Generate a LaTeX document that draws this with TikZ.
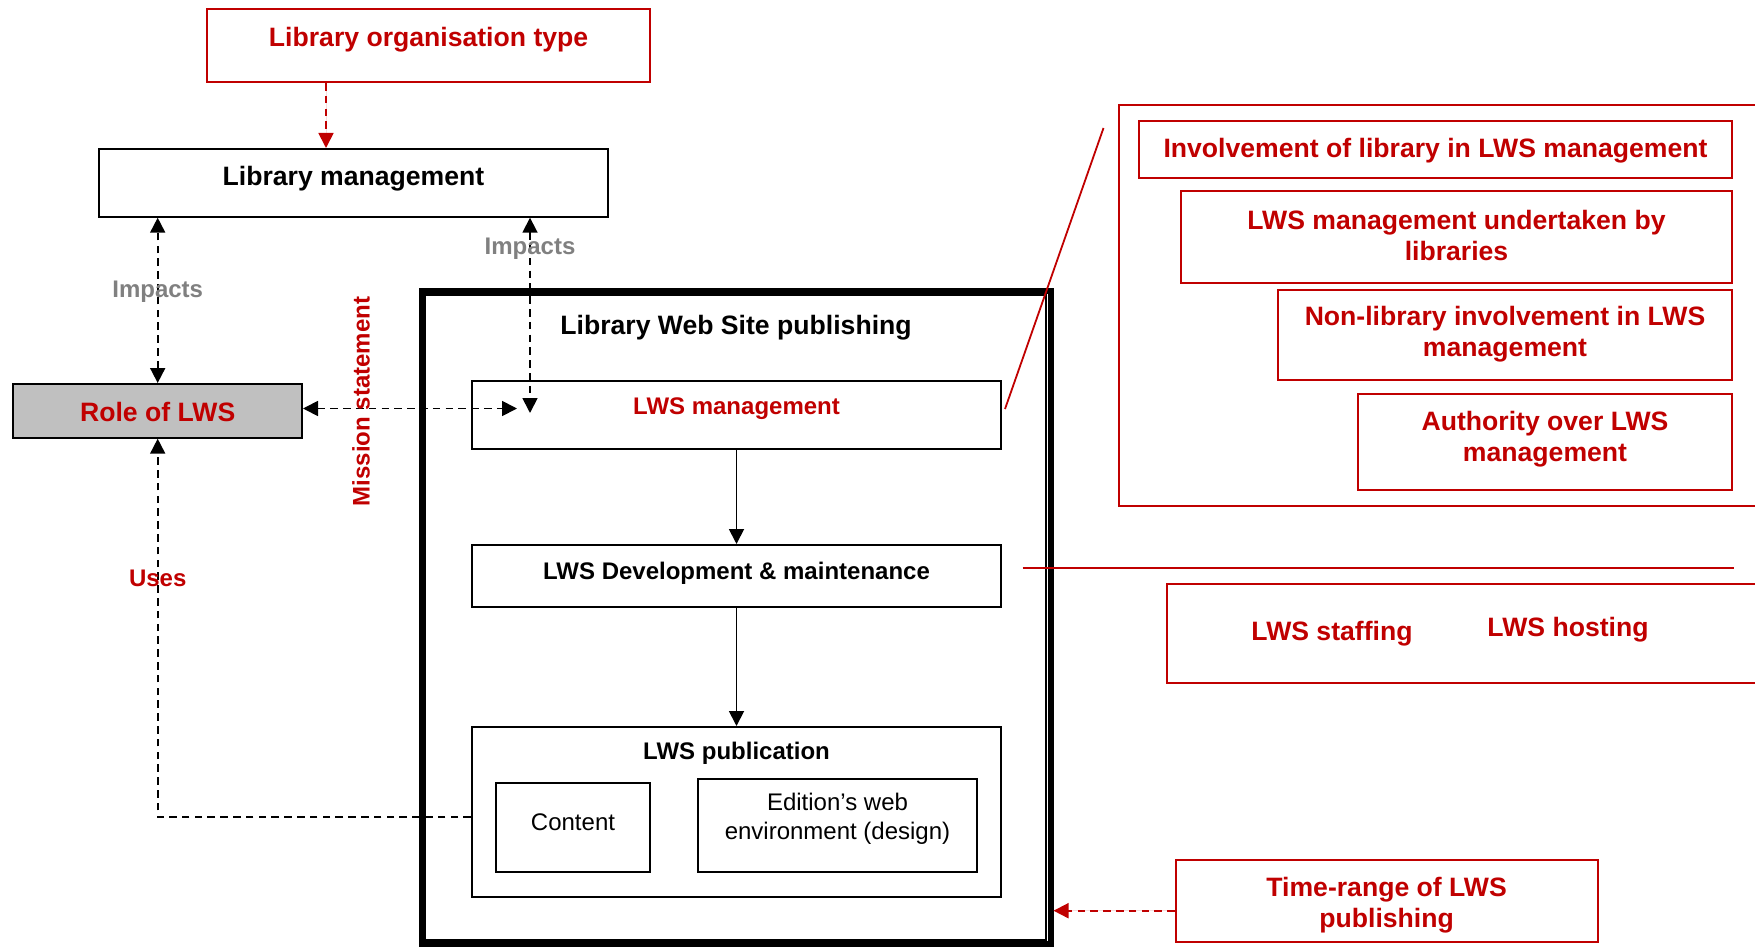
\documentclass[tikz,border=0pt]{standalone}
\usepackage{fontspec}
\setmainfont{Liberation Sans}
\usetikzlibrary{arrows.meta,calc,fit}
\definecolor{lwsred}{RGB}{192,0,0}
\definecolor{impgray}{RGB}{128,128,128}
\definecolor{rolegray}{RGB}{192,192,192}

\begin{document}
\begin{tikzpicture}[x=0.5pt,y=-0.5pt,
  box/.style={draw=black, line width=1pt, inner sep=0pt},
  redbox/.style={draw=lwsred, line width=1pt, inner sep=0pt},
  big/.style={font=\fontsize{13.3}{15.5}\selectfont\bfseries, align=center, inner sep=0pt, yshift=-1pt},
  small/.style={font=\fontsize{12}{14.3}\selectfont\bfseries, align=center, inner sep=0pt, yshift=-1pt},
  plain/.style={font=\fontsize{12}{14.3}\selectfont, align=center, inner sep=0pt, yshift=-1pt},
  vertical/.style={font=\fontsize{12}{14.3}\selectfont\bfseries, inner sep=0pt, rotate=90},
  tip/.style={-{Triangle[length=7.5pt,width=7.5pt]}},
  bitip/.style={{Triangle[length=7.5pt,width=7.5pt]}-{Triangle[length=7.5pt,width=7.5pt]}},
  dline/.style={draw=black, line width=0.9pt, dash pattern=on 3.8pt off 2.6pt},
  rdline/.style={draw=lwsred, fill=lwsred, line width=0.9pt, dash pattern=on 3.8pt off 2.6pt},
  solidarrow/.style={draw=black, line width=0.9pt},
  redline/.style={draw=lwsred, line width=0.9pt},
]
\useasboundingbox (0,0) rectangle (1755,947);
\clip (0,0) rectangle (1755,947);

% ---- left column ----
\node[redbox, fit={(206.7,9.3) (650,82)}] (lot) {};
\node[big, text=lwsred] (lot-t) at (428.6,37.3) {Library organisation type};

\node[box, fit={(99,149) (608,216.7)}] (lm) {};
\node[big] (lm-t) at (353.5,176.7) {Library management};

\node[box, fill=rolegray, fit={(13.4,384) (302,437.7)}] (role) {};
\node[big, text=lwsred] (role-t) at (157.7,410) {Role of LWS};

% ---- Library Web Site publishing frame ----
\node[draw=black, line width=3pt, inner sep=0pt, fit={(421.7,291) (1050.5,943.5)}] (lwsp) {};
\draw[line width=1pt] ($(lwsp.north west)+(6.5,6.5)$) rectangle ($(lwsp.south east)+(-7.5,-7)$);
\node[big] (lwsp-t) at (736,325.5) {Library Web Site publishing};

\node[box, fit={(472,381) (1001,449)}] (mgmt) {};
\node[small, text=lwsred] (mgmt-t) at (736.5,407) {LWS management};

\node[box, fit={(472,545) (1001,607)}] (dev) {};
\node[small] (dev-t) at (736.5,571) {LWS Development \& maintenance};

\node[box, fit={(472,727) (1001,897)}] (pub) {};
\node[small] (pub-t) at (736.5,751) {LWS publication};

\node[box, fit={(496,782.6) (650,872)}] (content) {};
\node[plain] (content-t) at (573,820.5) {Content};

\node[box, fit={(698,779) (977,872)}] (design) {};
\node[plain] (design-t) at (837.5,817) {Edition’s web\\environment (design)};

% ---- right column ----
\node[redbox, fit={(1119,105) (1800,505.6)}] (mgmtgroup) {};
\node[redbox, fit={(1139,120.6) (1732,178)}] (inv) {};
\node[big, text=lwsred] (inv-t) at (1435.5,148.5) {Involvement of library in LWS management};
\node[redbox, fit={(1181,191) (1732,282.5)}] (und) {};
\node[big, text=lwsred] (und-t) at (1456.5,233.5) {LWS management undertaken by\\libraries};
\node[redbox, fit={(1278,290) (1732,380)}] (nonlib) {};
\node[big, text=lwsred] (nonlib-t) at (1505,332.5) {Non-library involvement in LWS\\management};
\node[redbox, fit={(1358,394) (1732,490)}] (auth) {};
\node[big, text=lwsred] (auth-t) at (1545,437.5) {Authority over LWS\\management};

\node[redbox, fit={(1166.6,584) (1800,683)}] (devgroup) {};
\node[big, text=lwsred] (staff-t) at (1332,631.5) {LWS staffing};
\node[big, text=lwsred] (host-t) at (1568,628) {LWS hosting};

\node[redbox, fit={(1175.7,860) (1597.5,941.7)}] (tr) {};
\node[big, text=lwsred] (tr-t) at (1386.6,903) {Time-range of LWS\\publishing};

% ---- connector reference points ----
\coordinate (ax) at (326,0);
\coordinate (impR) at (530,413);
\coordinate (msR) at (517,408.5);
\coordinate (usesY) at (0,817);
\coordinate (diagA) at (1005,409);
\coordinate (diagB) at (1103.5,128);
\coordinate (hlA) at (1022.6,568);
\coordinate (hlB) at (1734,568);
\coordinate (trY) at (0,910.7);

% ---- connectors ----
\draw[rdline, tip] (ax |- lot.south) -- (ax |- lm.north);

\draw[dline, bitip] (role.north) -- (role.north |- lm.south);
\node[small, text=impgray] (imp1) at (157.7,289.3) {Impacts};

\draw[dline, bitip] (impR |- lm.south) -- (impR);
\node[small, text=impgray] (imp2) at (530,246.7) {Impacts};

\draw[dline, bitip] (role.east |- msR) -- (msR);
\node[vertical, text=lwsred] (mission) at (361,401.5) {Mission statement};

\draw[solidarrow, tip] (mgmt.south) -- (dev.north);
\draw[solidarrow, tip] (dev.south) -- (pub.north);

\draw[dline, tip] (pub.west |- usesY) -- (role.south |- usesY) -- (role.south);
\node[small, text=lwsred] (uses) at (157.7,576.4) {Uses};

\draw[redline] (diagA) -- (diagB);
\draw[redline] (hlA) -- (hlB);

\draw[rdline, tip] (tr.west |- trY) -- (lwsp.east |- trY);
\end{tikzpicture}
\end{document}
